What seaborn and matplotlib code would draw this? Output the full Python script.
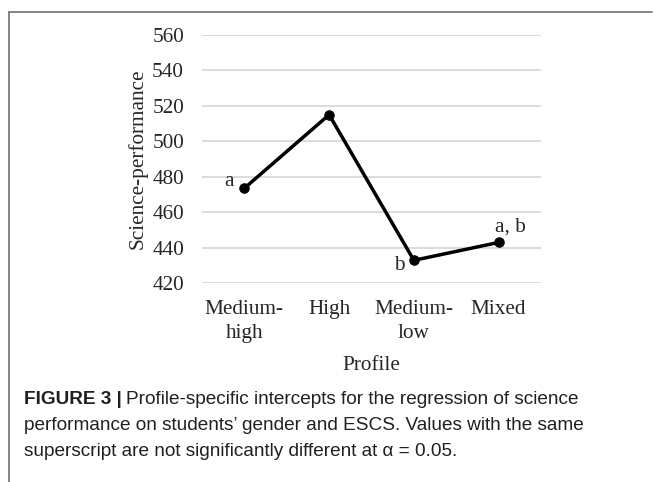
import matplotlib
matplotlib.use('Agg')
import matplotlib.pyplot as plt
import seaborn as sns
import pandas as pd
from matplotlib.lines import Line2D

profiles = ['Medium-\nhigh', 'High', 'Medium-\nlow', 'Mixed']
intercepts = [473.5, 515.0, 432.8, 442.9]
letters = ['a', '', 'b', 'a, b']
y_ticks = [420, 440, 460, 480, 500, 520, 540, 560]

df = pd.DataFrame({'profile': profiles, 'value': intercepts})

sns.set_style('white')
plt.rcParams['font.family'] = ['Liberation Serif', 'DejaVu Serif']
fs = 15.3

fig = plt.figure(figsize=(6.54, 4.82), dpi=100)
ax = fig.add_axes([202 / 654, 1 - 283 / 482, 339 / 654, 248 / 482])

sns.lineplot(data=df, x='profile', y='value', ax=ax, color='black',
             linewidth=2.5, marker='o', markersize=6.8, markeredgecolor='black',
             sort=False)

ax.set_xlim(-0.5, 3.5)
ax.set_ylim(420, 560)
ax.set_yticks(y_ticks)
ax.set_xticks(range(len(profiles)))
ax.set_xticklabels(profiles, fontsize=fs, linespacing=1.4)
ax.tick_params(axis='y', labelsize=fs, length=0, pad=13)
ax.tick_params(axis='x', length=0, pad=12)
ax.yaxis.grid(True, color='#d9d9d9', linewidth=1.3)
ax.set_axisbelow(True)
for s in ax.spines.values():
    s.set_visible(False)
ax.set_xlabel('Profile', fontsize=fs, labelpad=9)
ax.set_ylabel('Science-performance', fontsize=fs, labelpad=3)

offsets = [(-10.8, 5.0), (0, 0), (-10.8, -3.6), (8.6, 10.8)]
for i, (lab, v) in enumerate(zip(letters, intercepts)):
    if lab:
        ax.annotate(lab, (i, v), xytext=offsets[i], textcoords='offset points',
                    ha='center', va='center', fontsize=fs)

# frame lines
fig.add_artist(Line2D([9 / 654, 652 / 654], [1 - 11.5 / 482, 1 - 11.5 / 482],
                      transform=fig.transFigure, color='#707070', linewidth=1.2))
fig.add_artist(Line2D([9 / 654, 9 / 654], [0, 1 - 11.5 / 482],
                      transform=fig.transFigure, color='#707070', linewidth=1.2))

# caption
cap_font = ['Liberation Sans', 'DejaVu Sans']
cap_col = '#231f20'
cfs = 13.7
x0 = 24 / 654
t = fig.text(x0, 1 - 400 / 482, 'FIGURE 3 |', fontsize=cfs, fontweight='bold',
             family=cap_font, va='center', color=cap_col)
fig.canvas.draw()
bb = t.get_window_extent(fig.canvas.get_renderer())
fig.text(bb.x1 / fig.bbox.width + 4 / 654, 1 - 400 / 482,
         'Profile-specific intercepts for the regression of science',
         fontsize=cfs, family=cap_font, va='center', color=cap_col)
fig.text(x0, 1 - 426 / 482, 'performance on students\u2019 gender and ESCS. Values with the same',
         fontsize=cfs, family=cap_font, va='center', color=cap_col)
fig.text(x0, 1 - 452 / 482, 'superscript are not significantly different at \u03b1 = 0.05.',
         fontsize=cfs, family=cap_font, va='center', color=cap_col)

fig.savefig('out.png', dpi=100)
